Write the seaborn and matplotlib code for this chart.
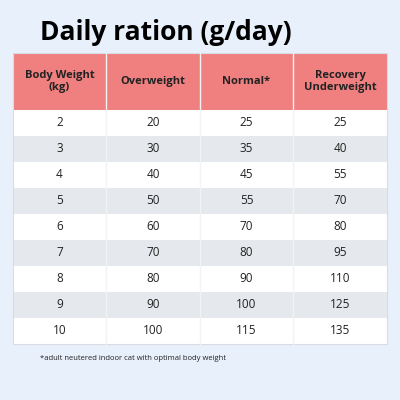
import matplotlib
matplotlib.use("Agg")
import matplotlib.pyplot as plt
import seaborn as sns
from matplotlib.patches import Rectangle

sns.set_theme(style="white")
plt.rcParams['font.family'] = ['Open Sans', 'DejaVu Sans']

title = "Daily ration (g/day)"
headers = ["Body Weight\n(kg)", "Overweight", "Normal*", "Recovery\nUnderweight"]
body_weight = [2, 3, 4, 5, 6, 7, 8, 9, 10]
overweight = [20, 30, 40, 50, 60, 70, 80, 90, 100]
normal = [25, 35, 45, 55, 70, 80, 90, 100, 115]
underweight = [25, 40, 55, 70, 80, 95, 110, 125, 135]
footnote = "*adult neutered indoor cat with optimal body weight"

fig = plt.figure(figsize=(4, 4), dpi=100)
fig.patch.set_facecolor("#e8f0fb")
ax = fig.add_axes([0, 0, 1, 1])
ax.set_xlim(0, 400)
ax.set_ylim(400, 0)
ax.axis("off")

ax.text(40, 33, title, fontsize=19, fontweight="bold", ha="left", va="center", color="black")

cols = [13, 106, 200, 293, 387]
head_top, head_bot = 53, 110
row_h = 26
ax.add_patch(Rectangle((cols[0], head_top), cols[-1]-cols[0], head_bot-head_top,
                       facecolor="#f08080", edgecolor="none"))
for i, h in enumerate(headers):
    ax.text((cols[i]+cols[i+1])/2, (head_top+head_bot)/2, h, fontsize=8, fontweight="bold",
            ha="center", va="center", color="#222222", linespacing=1.1)

data = list(zip(body_weight, overweight, normal, underweight))
for r, row in enumerate(data):
    y0 = head_bot + r*row_h
    ax.add_patch(Rectangle((cols[0], y0), cols[-1]-cols[0], row_h,
                           facecolor="white" if r % 2 == 0 else "#e5e8ec", edgecolor="none"))
    for i, v in enumerate(row):
        ax.text((cols[i]+cols[i+1])/2, y0+row_h/2, str(v), fontsize=8.5,
                ha="center", va="center", color="#222222")
bottom = head_bot + len(data)*row_h
for x in cols[1:-1]:
    ax.plot([x, x], [head_top, bottom], color="#f3f3f3", lw=1)
ax.add_patch(Rectangle((cols[0], head_top), cols[-1]-cols[0], bottom-head_top,
                       facecolor="none", edgecolor="#d8dde3", lw=0.8))

ax.text(40, 359, footnote, fontsize=5.5, ha="left", va="center", color="#222222")

fig.savefig("out.png", dpi=100, facecolor=fig.get_facecolor())
